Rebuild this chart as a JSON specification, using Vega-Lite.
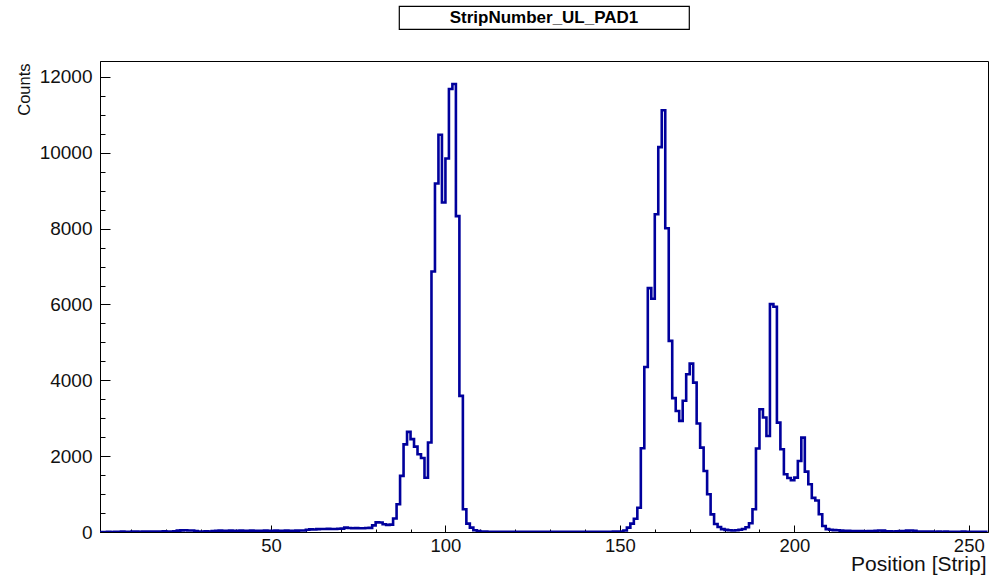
{
  "$schema": "https://vega.github.io/schema/vega-lite/v6.json",
  "padding": {"left": 15, "top": 5, "right": 3, "bottom": 4},
  "background": "white",
  "center": true,
  "bounds": "flush",
  "spacing": 32,
  "config": {"font": "Liberation Sans", "view": {"stroke": null}},
  "vconcat": [
    {
      "width": 290,
      "height": 23,
      "view": {"stroke": "black", "strokeWidth": 1.2, "fill": "white"},
      "data": {"values": [{"t": "StripNumber_UL_PAD1"}]},
      "mark": {"type": "text", "font": "Liberation Sans", "fontWeight": "bold", "fontSize": 17, "align": "center", "baseline": "middle", "color": "black"},
      "encoding": {"text": {"field": "t"}}
    },
    {
      "width": 888,
      "height": 471,
      "view": {"stroke": "black", "strokeWidth": 1},
      "data": {"values": [
        {"s":1,"c":0},{"s":2,"c":0},{"s":3,"c":5},{"s":4,"c":0},{"s":5,"c":8},{"s":6,"c":5},{"s":7,"c":10},{"s":8,"c":8},{"s":9,"c":5},{"s":10,"c":10},
        {"s":11,"c":12},{"s":12,"c":8},{"s":13,"c":10},{"s":14,"c":15},{"s":15,"c":12},{"s":16,"c":10},{"s":17,"c":15},{"s":18,"c":12},{"s":19,"c":18},{"s":20,"c":15},
        {"s":21,"c":12},{"s":22,"c":20},{"s":23,"c":35},{"s":24,"c":42},{"s":25,"c":45},{"s":26,"c":40},{"s":27,"c":38},{"s":28,"c":25},{"s":29,"c":15},{"s":30,"c":12},
        {"s":31,"c":18},{"s":32,"c":15},{"s":33,"c":25},{"s":34,"c":30},{"s":35,"c":35},{"s":36,"c":32},{"s":37,"c":30},{"s":38,"c":35},{"s":39,"c":33},{"s":40,"c":30},
        {"s":41,"c":35},{"s":42,"c":32},{"s":43,"c":30},{"s":44,"c":35},{"s":45,"c":33},{"s":46,"c":30},{"s":47,"c":32},{"s":48,"c":35},{"s":49,"c":30},{"s":50,"c":33},
        {"s":51,"c":35},{"s":52,"c":30},{"s":53,"c":32},{"s":54,"c":35},{"s":55,"c":33},{"s":56,"c":30},{"s":57,"c":35},{"s":58,"c":38},{"s":59,"c":40},{"s":60,"c":60},
        {"s":61,"c":70},{"s":62,"c":65},{"s":63,"c":75},{"s":64,"c":80},{"s":65,"c":78},{"s":66,"c":82},{"s":67,"c":80},{"s":68,"c":78},{"s":69,"c":85},{"s":70,"c":90},
        {"s":71,"c":115},{"s":72,"c":105},{"s":73,"c":100},{"s":74,"c":102},{"s":75,"c":98},{"s":76,"c":100},{"s":77,"c":105},{"s":78,"c":110},{"s":79,"c":175},{"s":80,"c":255},
        {"s":81,"c":250},{"s":82,"c":205},{"s":83,"c":185},{"s":84,"c":195},{"s":85,"c":355},{"s":86,"c":730},{"s":87,"c":1480},{"s":88,"c":2310},{"s":89,"c":2640},{"s":90,"c":2450},
        {"s":91,"c":2250},{"s":92,"c":2050},{"s":93,"c":1950},{"s":94,"c":1430},{"s":95,"c":2360},{"s":96,"c":6870},{"s":97,"c":9190},{"s":98,"c":10475},{"s":99,"c":8690},{"s":100,"c":9850},
        {"s":101,"c":11680},{"s":102,"c":11812},{"s":103,"c":8330},{"s":104,"c":3590},{"s":105,"c":600},{"s":106,"c":220},{"s":107,"c":115},{"s":108,"c":45},{"s":109,"c":25},{"s":110,"c":15},
        {"s":111,"c":10},{"s":112,"c":8},{"s":113,"c":6},{"s":114,"c":8},{"s":115,"c":5},{"s":116,"c":6},{"s":117,"c":4},{"s":118,"c":5},{"s":119,"c":6},{"s":120,"c":4},
        {"s":121,"c":5},{"s":122,"c":3},{"s":123,"c":4},{"s":124,"c":5},{"s":125,"c":3},{"s":126,"c":4},{"s":127,"c":6},{"s":128,"c":4},{"s":129,"c":3},{"s":130,"c":5},
        {"s":131,"c":4},{"s":132,"c":3},{"s":133,"c":5},{"s":134,"c":4},{"s":135,"c":6},{"s":136,"c":5},{"s":137,"c":4},{"s":138,"c":5},{"s":139,"c":6},{"s":140,"c":5},
        {"s":141,"c":6},{"s":142,"c":5},{"s":143,"c":7},{"s":144,"c":6},{"s":145,"c":8},{"s":146,"c":7},{"s":147,"c":8},{"s":148,"c":10},{"s":149,"c":9},{"s":150,"c":12},
        {"s":151,"c":40},{"s":152,"c":115},{"s":153,"c":220},{"s":154,"c":350},{"s":155,"c":640},{"s":156,"c":2210},{"s":157,"c":4350},{"s":158,"c":6430},{"s":159,"c":6150},{"s":160,"c":8380},
        {"s":161,"c":10150},{"s":162,"c":11120},{"s":163,"c":8010},{"s":164,"c":5040},{"s":165,"c":3530},{"s":166,"c":3190},{"s":167,"c":2930},{"s":168,"c":3460},{"s":169,"c":4160},{"s":170,"c":4440},
        {"s":171,"c":3940},{"s":172,"c":2860},{"s":173,"c":2225},{"s":174,"c":1610},{"s":175,"c":995},{"s":176,"c":466},{"s":177,"c":210},{"s":178,"c":130},{"s":179,"c":75},{"s":180,"c":55},
        {"s":181,"c":45},{"s":182,"c":40},{"s":183,"c":45},{"s":184,"c":60},{"s":185,"c":80},{"s":186,"c":125},{"s":187,"c":230},{"s":188,"c":600},{"s":189,"c":2200},{"s":190,"c":3236},
        {"s":191,"c":3020},{"s":192,"c":2533},{"s":193,"c":6010},{"s":194,"c":5940},{"s":195,"c":2885},{"s":196,"c":2181},{"s":197,"c":1522},{"s":198,"c":1425},{"s":199,"c":1363},{"s":200,"c":1434},
        {"s":201,"c":1873},{"s":202,"c":2489},{"s":203,"c":1592},{"s":204,"c":1258},{"s":205,"c":900},{"s":206,"c":830},{"s":207,"c":470},{"s":208,"c":160},{"s":209,"c":75},{"s":210,"c":60},
        {"s":211,"c":50},{"s":212,"c":45},{"s":213,"c":35},{"s":214,"c":30},{"s":215,"c":30},{"s":216,"c":25},{"s":217,"c":28},{"s":218,"c":22},{"s":219,"c":25},{"s":220,"c":20},
        {"s":221,"c":22},{"s":222,"c":25},{"s":223,"c":30},{"s":224,"c":40},{"s":225,"c":35},{"s":226,"c":20},{"s":227,"c":18},{"s":228,"c":15},{"s":229,"c":20},{"s":230,"c":22},
        {"s":231,"c":25},{"s":232,"c":35},{"s":233,"c":40},{"s":234,"c":30},{"s":235,"c":15},{"s":236,"c":12},{"s":237,"c":10},{"s":238,"c":12},{"s":239,"c":10},{"s":240,"c":8},
        {"s":241,"c":10},{"s":242,"c":8},{"s":243,"c":10},{"s":244,"c":6},{"s":245,"c":8},{"s":246,"c":5},{"s":247,"c":8},{"s":248,"c":10},{"s":249,"c":6},{"s":250,"c":5},
        {"s":251,"c":8},{"s":252,"c":5},{"s":253,"c":4},{"s":254,"c":5},{"s":255,"c":3}
      ]},
      "mark": {"type": "line", "interpolate": "step-after", "color": "#00009c", "strokeWidth": 2.6, "clip": true},
      "encoding": {
        "x": {
          "field": "s", "type": "quantitative",
          "scale": {"domain": [1, 255.5], "nice": false, "zero": false},
          "axis": {
            "title": "Position [Strip]",
            "values": [10,20,30,40,50,60,70,80,90,100,110,120,130,140,150,160,170,180,190,200,210,220,230,240,250],
            "labelExpr": "datum.value % 50 === 0 ? datum.label : ''",
            "grid": false,
            "domainColor": "black",
            "tickColor": "black",
            "tickWidth": 1,
            "tickSize": {"condition": {"test": "datum.value % 50 === 0", "value": -7}, "value": -3},
            "labelPadding": 11,
            "labelFont": "Liberation Sans",
            "labelFontSize": 18.5,
            "labelColor": "#111111",
            "labelFlush": false,
            "labelOverlap": false,
            "titleFont": "Liberation Sans",
            "titleFontSize": 21,
            "titleFontWeight": "normal",
            "titleColor": "#111111",
            "titleAnchor": null,
            "titleAlign": "right",
            "titleBaseline": "alphabetic",
            "titleX": 886,
            "titleY": 38
          }
        },
        "y": {
          "field": "c", "type": "quantitative",
          "scale": {"domain": [0, 12420], "nice": false},
          "axis": {
            "title": "Counts",
            "values": [0,500,1000,1500,2000,2500,3000,3500,4000,4500,5000,5500,6000,6500,7000,7500,8000,8500,9000,9500,10000,10500,11000,11500,12000],
            "labelExpr": "datum.value % 2000 === 0 ? datum.value : ''",
            "grid": false,
            "domainColor": "black",
            "tickColor": "black",
            "tickWidth": 1,
            "tickSize": {"condition": {"test": "datum.value % 2000 === 0", "value": -10}, "value": -5},
            "labelPadding": 18,
            "labelFont": "Liberation Sans",
            "labelFontSize": 19,
            "labelColor": "#111111",
            "labelOverlap": false,
            "labelFlush": false,
            "titleFont": "Liberation Sans",
            "titleFontSize": 16.5,
            "titleFontWeight": "normal",
            "titleColor": "#111111",
            "titleAngle": -90,
            "titleAnchor": null,
            "titleAlign": "right",
            "titleBaseline": "alphabetic",
            "titleX": -71,
            "titleY": 2
          }
        }
      }
    }
  ]
}
